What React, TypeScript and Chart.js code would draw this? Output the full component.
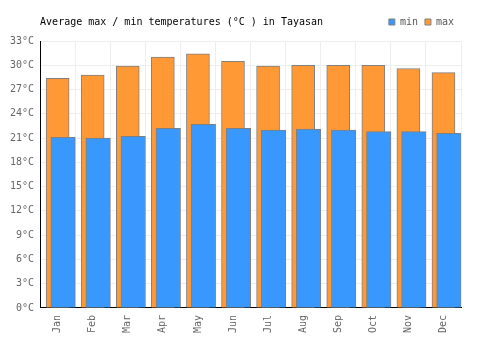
import React, { useEffect, useRef } from "react";
import { Chart, registerables } from "chart.js";

Chart.register(...registerables);

const months = ["Jan", "Feb", "Mar", "Apr", "May", "Jun", "Jul", "Aug", "Sep", "Oct", "Nov", "Dec"];
const minTemps = [21.1, 21.0, 21.2, 22.2, 22.7, 22.2, 22.0, 22.1, 22.0, 21.8, 21.8, 21.6];
const maxTemps = [28.4, 28.8, 29.9, 31.0, 31.4, 30.5, 29.9, 30.0, 30.0, 30.0, 29.6, 29.1];
const yTicks = [0, 3, 6, 9, 12, 15, 18, 21, 24, 27, 30, 33];
const titleText = "Average max / min temperatures (°C ) in Tayasan";

const FONT = '"DejaVu Sans Mono", monospace';
const MIN_SHIFT = 0.155;

const titlePlugin = {
  id: "customTitle",
  afterDraw(chart: any) {
    const ctx = chart.ctx;
    ctx.save();
    ctx.font = `10px ${FONT}`;
    ctx.fillStyle = "#000";
    ctx.textAlign = "left";
    ctx.textBaseline = "alphabetic";
    ctx.fillText(titleText, chart.chartArea.left, 25);
    ctx.restore();
  },
};

const legendSpacer = {
  id: "legendSpacer",
  beforeInit(chart: any) {
    const legend = chart.legend;
    if (!legend) return;
    const orig = legend.fit;
    legend.fit = function (this: any) {
      orig.call(this);
      this.height += 4;
    };
  },
};

const hiddenIndexAxis = (shift: number) => ({
  type: "linear" as const,
  display: false,
  offset: false,
  bounds: "data" as const,
  min: -0.5 - shift,
  max: 11.5 - shift,
  grid: { offset: false },
  afterBuildTicks: (scale: any) => {
    scale.ticks = [];
    scale.min = -0.5 - shift;
    scale.max = 11.5 - shift;
  },
});

export default function App() {
  const ref = useRef<HTMLCanvasElement>(null);
  useEffect(() => {
    if (!ref.current) return;
    const chart = new Chart(ref.current, {
      type: "bar",
      data: {
        labels: months,
        datasets: [
          {
            label: "min",
            data: minTemps.map((v, i) => ({ x: i, y: v })),
            xAxisID: "x2",
            grouped: false,
            backgroundColor: "#3898fd",
            borderColor: "#808080",
            borderWidth: 1,
            barThickness: 24.5,
          },
          {
            label: "max",
            data: maxTemps.map((v, i) => ({ x: i, y: v })),
            xAxisID: "x3",
            grouped: false,
            backgroundColor: "#ff9935",
            borderColor: "#808080",
            borderWidth: 1,
            barThickness: 23,
          },
        ],
      },
      options: {
        responsive: false,
        animation: false,
        layout: { padding: { left: 4, right: 39, top: 10, bottom: 10 } },
        plugins: {
          title: { display: false },
          tooltip: { enabled: false },
          legend: {
            display: true,
            position: "top",
            align: "end",
            labels: {
              boxWidth: 6,
              boxHeight: 6,
              padding: 7,
              color: "#555",
              font: { family: FONT, size: 10 },
            },
          },
        },
        scales: {
          x: {
            type: "category",
            offset: true,
            grid: { offset: true, color: "#eeeeee", drawTicks: false },
            border: { display: true, color: "#000", width: 1 },
            ticks: {
              minRotation: 90,
              maxRotation: 90,
              padding: 7,
              color: "#666",
              font: { family: FONT, size: 10 },
            },
          },
          x2: hiddenIndexAxis(MIN_SHIFT),
          x3: hiddenIndexAxis(0),
          y: {
            min: 0,
            max: 33,
            afterBuildTicks: (scale: any) => {
              scale.ticks = yTicks.map((v) => ({ value: v }));
            },
            grid: { color: "#eeeeee", drawTicks: false },
            border: { display: true, color: "#000", width: 1 },
            ticks: {
              padding: 6,
              color: "#666",
              font: { family: FONT, size: 10 },
              callback: (v: any) => `${v}°C`,
            },
          },
        },
      },
      plugins: [titlePlugin, legendSpacer],
    });
    return () => chart.destroy();
  }, []);
  return (
    <canvas
      ref={ref}
      width={500}
      height={350}
      style={{ position: "absolute", left: 0, top: 0, width: 500, height: 350 }}
    />
  );
}
